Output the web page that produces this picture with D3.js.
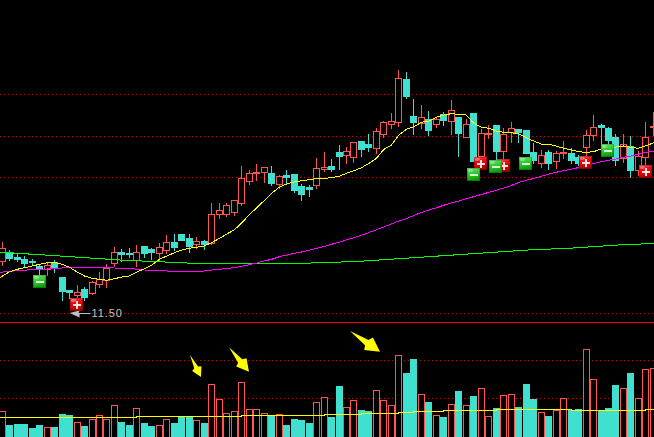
<!DOCTYPE html>
<html>
<head>
<meta charset="utf-8">
<style>html,body{margin:0;padding:0;background:#000;overflow:hidden}svg{display:block}</style>
<script src="https://cdn.jsdelivr.net/npm/d3@7/dist/d3.min.js"></script>
</head>
<body>
<svg id="c" width="654" height="437"></svg>
<script>
const open=[16.7,17.6,17.1,16.9,16.7,16.2,15.9,16.6,15.1,13.8,13.3,13.9,13.5,14.4,14.8,16.5,17.6,17.5,16.8,18.2,17.9,17.5,17.8,18.6,19.4,19.0,18.4,18.7,18.5,21.4,21.4,21.6,22.5,24.7,25.5,25.6,25.5,24.4,25.3,25.4,24.2,24.1,24.3,25.9,26.2,27.6,27.3,27.1,28.7,28.4,28.0,29.4,30.4,30.6,34.9,31.2,30.5,30.9,30.4,31.4,30.7,31.1,29.1,31.5,27.2,29.4,30.3,27.7,29.6,29.9,29.8,27.6,26.5,27.6,26.7,27.5,27.5,27.1,28.1,29.3,30.3,30.0,29.1,27.0,28.2,25.8,27.1,30.1];
const close=[18.0,17.0,16.9,16.5,16.6,15.9,16.3,16.1,13.7,13.6,13.6,13.1,14.6,14.9,16.0,17.6,17.4,17.4,17.6,17.5,17.6,18.1,18.6,18.1,18.8,18.2,18.7,18.4,21.4,21.8,22.3,22.8,25.0,25.5,25.6,26.1,24.5,25.2,25.1,23.8,23.4,23.9,26.0,26.1,25.9,27.2,27.7,28.6,27.9,28.1,29.7,30.6,30.7,35.0,33.2,30.6,31.1,29.8,30.9,30.8,31.8,29.5,30.4,26.7,29.5,29.5,27.7,29.4,30.0,29.6,27.5,26.8,27.3,26.5,27.5,27.6,26.8,26.5,29.3,30.1,30.1,28.8,26.8,28.4,25.8,27.2,29.1,30.2];
const high=[18.6,17.8,17.5,17.2,16.9,16.4,16.5,16.8,15.1,13.8,14.3,14.1,14.7,15.6,16.4,18.1,17.9,18.0,18.3,18.2,18.0,18.5,19.3,19.4,19.4,19.4,19.1,18.8,22.5,22.5,22.5,22.8,26.2,25.8,26.4,26.1,26.2,25.3,25.8,25.4,24.4,24.3,27.0,27.6,26.9,28.3,28.1,28.6,28.7,29.4,30.0,30.7,31.5,35.8,35.6,32.9,32.3,31.7,31.1,31.6,32.8,31.1,30.9,31.5,29.9,30.3,30.3,30.0,30.6,29.9,29.8,28.5,27.8,27.8,27.7,28.7,28.0,27.3,29.8,31.3,30.4,30.1,29.4,29.4,29.2,27.7,30.6,31.6];
const low=[16.3,16.8,16.7,16.2,16.3,15.3,15.3,15.6,12.8,13.0,13.0,12.8,13.4,14.1,14.1,16.2,16.7,17.1,16.2,17.1,16.9,16.8,17.5,17.8,18.8,17.6,18.0,17.9,18.4,21.0,21.2,21.3,22.3,24.4,24.8,24.6,24.3,24.0,24.5,23.6,22.8,23.2,24.0,25.7,25.7,25.9,26.5,26.6,27.2,27.7,27.5,29.1,30.0,30.2,33.0,29.4,30.0,29.3,30.1,30.3,29.4,27.2,29.1,26.7,26.8,29.0,26.8,26.8,28.6,28.6,27.5,26.5,26.1,25.9,26.0,27.0,26.5,26.3,27.1,28.8,28.3,28.3,26.3,26.6,25.1,25.3,26.3,29.3];
const maYellow=[15.05,15.63,15.87,16.03,16.2,16.37,16.53,16.57,16.37,16.07,15.6,15.2,14.97,14.87,14.77,14.93,15.1,15.2,15.6,15.93,16.3,16.87,17.2,17.53,17.8,17.97,18.07,18.2,18.55,18.95,19.4,19.8,20.53,21.3,22.03,22.73,23.47,24.07,24.4,24.6,24.73,24.83,24.93,24.97,25.03,25.17,25.47,25.73,26.03,26.47,26.97,27.87,28.3,29.3,29.87,30.13,30.57,30.7,31.07,31.3,31.43,31.37,31.3,30.47,30.07,29.97,29.7,29.57,29.53,29.4,29.03,28.7,28.4,28.37,28.2,27.97,27.83,27.63,27.57,27.63,27.9,28.1,28.1,28.2,28.07,27.97,28.23,28.53];
const maMagenta=[15.57,15.67,15.73,15.77,15.87,15.87,15.9,15.93,16,16.03,16.03,16.07,16.07,16.07,16.03,16,15.97,15.97,15.87,15.8,15.77,15.77,15.7,15.67,15.67,15.67,15.67,15.7,15.8,15.87,15.94,16.04,16.17,16.33,16.5,16.7,16.87,17.12,17.3,17.46,17.6,17.78,17.95,18.15,18.37,18.58,18.83,19.02,19.27,19.55,19.83,20.1,20.4,20.7,20.95,21.25,21.55,21.8,22.02,22.28,22.5,22.7,22.94,23.13,23.35,23.56,23.77,24,24.24,24.55,24.77,24.95,25.17,25.38,25.57,25.73,25.87,26.05,26.25,26.43,26.63,26.77,26.9,27.07,27.2,27.37,27.57,27.7];
const maGreen=[17.57,17.53,17.47,17.43,17.37,17.37,17.27,17.27,17.17,17.17,17.07,17.07,16.97,16.97,16.87,16.87,16.77,16.77,16.77,16.67,16.67,16.67,16.57,16.57,16.57,16.47,16.47,16.47,16.47,16.47,16.47,16.47,16.47,16.47,16.47,16.47,16.47,16.47,16.47,16.47,16.47,16.47,16.57,16.57,16.57,16.57,16.67,16.67,16.67,16.77,16.77,16.87,16.87,16.97,16.97,17.07,17.07,17.17,17.17,17.27,17.27,17.37,17.37,17.47,17.47,17.57,17.57,17.67,17.67,17.77,17.77,17.87,17.87,17.87,17.97,17.97,17.97,18.07,18.07,18.17,18.17,18.27,18.27,18.37,18.37,18.37,18.47,18.47];
const volume=[2.6,1.2,1.3,1.3,0.9,1.2,0.97,1.0,2.3,2.2,1.47,1.1,1.77,2.17,1.77,3.17,1.5,1.2,2.87,1.4,1.1,1.17,1.77,1.4,2.0,2.07,1.67,1.4,5.27,3.77,2.37,2.57,5.47,2.77,2.77,2.37,2.13,2.27,1.2,1.8,1.7,1.4,3.47,3.97,2.0,5.1,2.97,3.67,2.7,2.6,4.67,3.67,3.17,8.17,6.4,7.8,4.27,3.5,2.17,2.0,3.27,4.6,3.17,4.1,4.87,2.07,2.9,4.17,4.27,3.0,5.3,3.8,2.47,2.1,2.67,3.87,2.67,2.8,8.77,5.77,2.7,2.9,5.2,4.87,6.4,3.87,6.77,6.87];
const volMA=[1.95,1.95,1.95,1.95,1.95,1.95,1.95,1.95,1.95,1.95,1.95,1.95,1.95,1.95,1.95,1.95,1.95,1.95,2.05,2.05,2.05,2.05,2.05,2.05,2.05,2.05,2.05,2.05,2.05,2.05,2.05,2.05,2.15,2.15,2.15,2.15,2.15,2.15,2.15,2.15,2.15,2.15,2.15,2.25,2.25,2.25,2.25,2.25,2.35,2.35,2.35,2.35,2.35,2.45,2.45,2.55,2.55,2.55,2.55,2.65,2.65,2.65,2.65,2.65,2.65,2.65,2.75,2.75,2.75,2.75,2.75,2.75,2.75,2.75,2.75,2.75,2.65,2.65,2.65,2.65,2.65,2.65,2.65,2.65,2.65,2.65,2.75,2.75];
const priceGrid=[33.35,29.15,25.05];
const volGrid=[7.65,3.85];
const lowPrice=11.45;
const lowLabel="11.50";
const lowIndex=9;
const minusIdx=[5,63,66,70,81];
const minusPrice=[14.65,25.35,26.15,26.45,27.75];
const plusIdx=[10,64,67,78,86];
const plusPrice=[12.35,26.45,26.25,26.55,25.65];
const arrowTail=[[25.09,8.2],[30.3,8.97],[46.47,10.6]];
const arrowTip=[[26.56,6.0],[32.97,6.53],[50.47,8.53]];

const RED="#ff5454",CYAN="#40e0d0",GRID="#d00000";
const svg=d3.select("#c");
const x=d3.scaleLinear().domain([0,87]).range([2.2,653.4]);
const yP=d3.scaleLinear().domain([11.5,42.8]).range([313,0]);
const yV=d3.scaleLinear().domain([0,11.5]).range([437,322]);
const left=i=>Math.round(x(i)-3.5);
const idx=d3.range(open.length);
const lineX=i=>i===0?0:(i===87?654:x(i));

const defs=svg.append("defs");
function grad(id,stops){
  const g=defs.append("linearGradient").attr("id",id).attr("x1",0).attr("y1",0).attr("x2",0.25).attr("y2",1);
  stops.forEach(s=>g.append("stop").attr("offset",s[0]).attr("stop-color",s[1]));
}
grad("gMinus",[[0,"#8cf08c"],[0.3,"#44d644"],[0.7,"#22bb22"],[1,"#0f9a0f"]]);
grad("gPlus",[[0,"#ff5a5a"],[0.35,"#f01010"],[0.75,"#d80000"],[1,"#a80000"]]);

const hline=(y,dash,color)=>svg.append("line").attr("x1",0).attr("x2",654)
  .attr("y1",Math.floor(y)+.5).attr("y2",Math.floor(y)+.5)
  .attr("stroke",color).attr("stroke-width",1).attr("stroke-dasharray",dash)
  .attr("shape-rendering","crispEdges");
priceGrid.forEach(p=>hline(yP(p),"1,3",GRID));
hline(yP(lowPrice),"1,3",GRID);
volGrid.forEach(v=>hline(yV(v),"1,3",GRID));
hline(322,null,"#ff0000");

const vg=svg.append("g").attr("shape-rendering","crispEdges");
idx.forEach(i=>{
  const up=close[i]>=open[i], top=Math.round(yV(volume[i]));
  if(up) vg.append("rect").attr("x",left(i)+.5).attr("y",top+.5).attr("width",6).attr("height",445-top)
    .attr("fill","#000").attr("stroke",RED);
  else vg.append("rect").attr("x",left(i)).attr("y",top).attr("width",7).attr("height",445-top).attr("fill",CYAN);
});

const cg=svg.append("g").attr("shape-rendering","crispEdges");
idx.forEach(i=>{
  const up=close[i]>=open[i], col=up?RED:CYAN, l=left(i), cx=l+3.5;
  const t=Math.round(yP(Math.max(open[i],close[i]))), b=Math.round(yP(Math.min(open[i],close[i])));
  const h=Math.round(yP(high[i])), lo=Math.round(yP(low[i]));
  if(h<t) cg.append("line").attr("x1",cx).attr("x2",cx).attr("y1",h).attr("y2",t).attr("stroke",col);
  if(lo>b) cg.append("line").attr("x1",cx).attr("x2",cx).attr("y1",b).attr("y2",lo+1).attr("stroke",col);
  if(up) cg.append("rect").attr("x",l+.5).attr("y",t+.5).attr("width",6).attr("height",Math.max(b-t,1)).attr("fill","#000").attr("stroke",col);
  else cg.append("rect").attr("x",l).attr("y",t).attr("width",7).attr("height",Math.max(b-t+1,2)).attr("fill",col);
});

const lineP=d3.line().x((d,i)=>lineX(i)).y(d=>yP(d));
const lineV=d3.line().x((d,i)=>lineX(i)).y(d=>yV(d)).curve(d3.curveStepAfter);
[[maGreen,"#00ff00"],[maMagenta,"#ff00ff"],[maYellow,"#ffff00"]].forEach(s=>{
  svg.append("path").attr("d",lineP(s[0])).attr("fill","none").attr("stroke",s[1]).attr("stroke-width",1).attr("shape-rendering","crispEdges");
});
svg.append("path").attr("d",lineV(volMA)).attr("fill","none").attr("stroke","#ffff00").attr("stroke-width",1).attr("shape-rendering","crispEdges");

function badge(i,p,kind){
  const X=Math.floor(x(i)-6.5), Y=Math.round(yP(p)-6.5);
  const g=svg.append("g").attr("transform",`translate(${X},${Y})`);
  g.append("rect").attr("width",13).attr("height",13).attr("fill",kind==="+"?"url(#gPlus)":"url(#gMinus)");
  g.append("rect").attr("x",.5).attr("y",.5).attr("width",12).attr("height",12).attr("fill","none").attr("stroke","#000").attr("stroke-opacity",.22).attr("shape-rendering","crispEdges");
  g.append("rect").attr("x",1).attr("y",1).attr("width",5).attr("height",3).attr("rx",1.5).attr("fill","#fff").attr("opacity",.28);
  g.append("rect").attr("x",2.5).attr("y",5.5).attr("width",8).attr("height",2).attr("fill",kind==="+"?"#f4e4e4":"#d8f8d8").attr("shape-rendering","crispEdges");
  if(kind==="+") g.append("rect").attr("x",5.5).attr("y",2.5).attr("width",2).attr("height",8).attr("fill","#f4e4e4").attr("shape-rendering","crispEdges");
}
plusIdx.forEach((d,k)=>badge(d,plusPrice[k],"+"));
minusIdx.forEach((d,k)=>badge(d,minusPrice[k],"-"));

const ly=yP(lowPrice), lx=x(lowIndex);
svg.append("path").attr("d",`M${lx},${ly-.5} L${lx+10},${ly-3} L${lx+9},${ly-.5} L${lx+21},${ly-.5} L${lx+21},${ly+.5} L${lx+10},${ly+.5} L${lx+10},${ly+4} Z`).attr("fill","#c0c0c0");
svg.append("g").attr("opacity",.99).append("text").attr("x",lx+22).attr("y",ly+3.5).attr("font-family","'Liberation Sans',Arial,sans-serif").attr("font-size",11)
  .attr("letter-spacing",.9).attr("fill","#c8c8c8").text(lowLabel);

arrowTail.forEach((t,k)=>{
  const a=[x(t[0]),yV(t[1])], b=[x(arrowTip[k][0]),yV(arrowTip[k][1])];
  const dx=b[0]-a[0], dy=b[1]-a[1], L=Math.hypot(dx,dy), ux=dx/L, uy=dy/L, px=-uy, py=ux;
  const hb=L*0.38, hw=L*0.21, sw=L*0.085, ns=L*0.44;
  const at=(al,pe)=>[b[0]-ux*al+px*pe,b[1]-uy*al+py*pe];
  const pts=[a,at(ns,sw),at(hb,hw),b,at(hb,-hw),at(ns,-sw)];
  svg.append("polygon").attr("points",pts.map(q=>q.join(",")).join(" ")).attr("fill","#ffff00");
});
</script>
</body>
</html>
